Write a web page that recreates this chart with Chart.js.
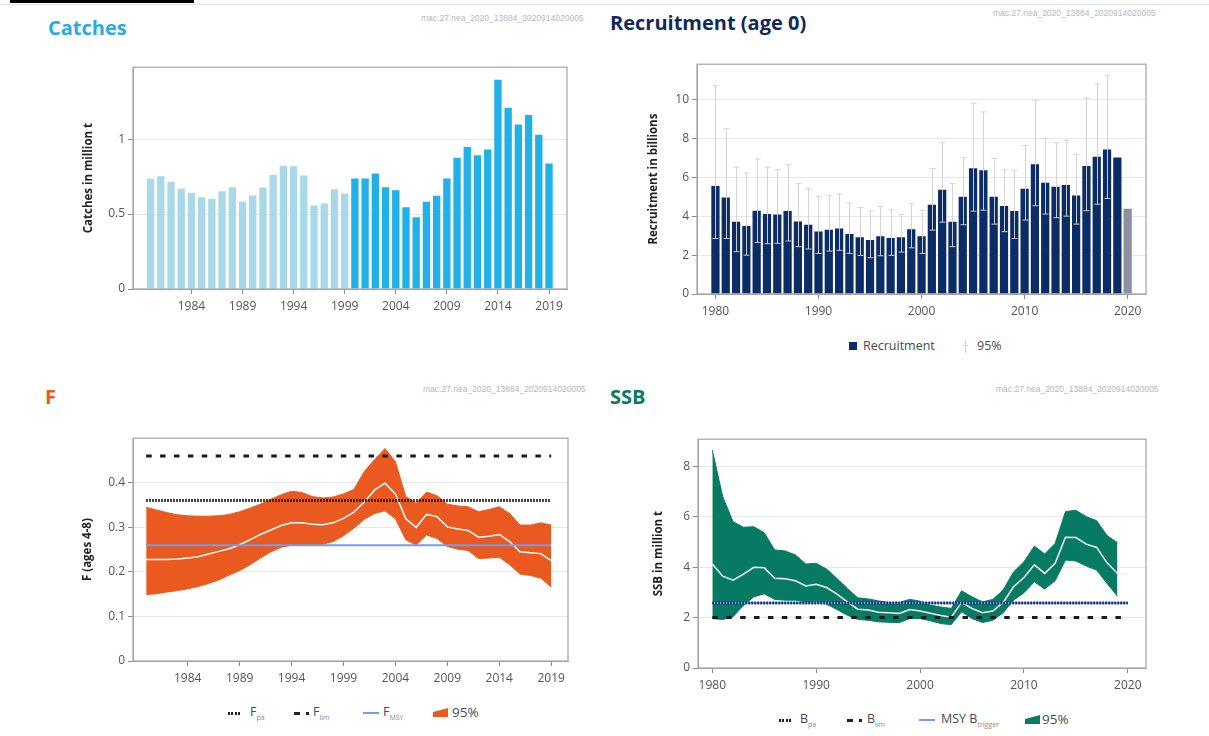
<!DOCTYPE html>
<html>
<head>
<meta charset="utf-8">
<title>mac.27.nea 2020</title>
<script src="https://cdn.jsdelivr.net/npm/chart.js@4.4.1/dist/chart.umd.min.js"></script>
<style>
  body { margin: 0; background: #fff; font-family: "Open Sans", sans-serif; }
  #page { position: relative; width: 1209px; height: 736px; overflow: hidden; }
  canvas { position: absolute; }
  .title { position: absolute; font-weight: 700; font-size: 20px; line-height: 24px; white-space: nowrap; }
  .code { position: absolute; font-family: "Liberation Sans", sans-serif; font-size: 8.5px; line-height: 10px; color: #b3b8c1; white-space: nowrap; }
  .lg { position: absolute; font-size: 12.5px; line-height: 14px; color: #4a4a4a; white-space: nowrap; }
  .lg sub { font-size: 7px; vertical-align: -4px; color: #8a8a8a; }
  .ic { position: absolute; }
  .dots { width: 12px; height: 2.5px; background: repeating-linear-gradient(90deg, #222 0 2px, transparent 2px 3.4px); }
  .dash { width: 6px; height: 3px; background: #222; }
  .dot { width: 3px; height: 3px; background: #222; }
  .msy { width: 16px; height: 2px; background: #6f9df5; }
  .wedge { width: 15px; height: 9px; clip-path: polygon(0 45%, 100% 0, 100% 100%, 0 100%); }
  .sq { width: 8px; height: 8px; background: #0c2c66; }
  .eb { width: 1px; height: 13px; background: #cfcfcf; }
  .ebcap { width: 5px; height: 1px; background: #cfcfcf; }
</style>
</head>
<body>
<div id="page">
  <div class="ic" style="left:10px;top:0;width:184px;height:3px;background:#000"></div>
  <div class="ic" style="left:0;top:4px;width:1209px;height:1px;background:#e4e4e4"></div>

  <div class="title" style="left:48px;top:16px;color:#2aaae2">Catches</div>
  <div class="title" style="left:610px;top:11px;color:#10295b">Recruitment (age 0)</div>
  <div class="title" style="left:45px;top:385px;color:#ea5a20">F</div>
  <div class="title" style="left:610px;top:385px;color:#0b7a63">SSB</div>

  <div class="code" style="left:421px;top:13px">mac.27.nea_2020_13884_2020914020005</div>
  <div class="code" style="left:993px;top:8px">mac.27.nea_2020_13884_2020914020005</div>
  <div class="code" style="left:423px;top:384px">mac.27.nea_2020_13884_2020914020005</div>
  <div class="code" style="left:996px;top:384px">mac.27.nea_2020_13884_2020914020005</div>

  <canvas id="catchChart" width="497" height="262" style="left:82px;top:57px"></canvas>
  <canvas id="recChart" width="511" height="270" style="left:647px;top:54px"></canvas>
  <canvas id="fChart" width="499" height="263" style="left:81px;top:428px"></canvas>
  <canvas id="ssbChart" width="506" height="269" style="left:652px;top:429px"></canvas>

  <!-- recruitment legend -->
  <div class="ic sq" style="left:849px;top:342px"></div>
  <div class="lg" style="left:863px;top:339px">Recruitment</div>
  <div class="ic eb" style="left:965px;top:340px"></div>
  <div class="ic ebcap" style="left:963px;top:345px"></div>
  <div class="lg" style="left:977px;top:339px">95%</div>

  <!-- F legend -->
  <div class="ic dots" style="left:228px;top:712px"></div>
  <div class="lg" style="left:250px;top:705px">F<sub>pa</sub></div>
  <div class="ic dash" style="left:294px;top:712px"></div>
  <div class="ic dot" style="left:306px;top:712px"></div>
  <div class="lg" style="left:313px;top:705px">F<sub>lim</sub></div>
  <div class="ic msy" style="left:363px;top:712px"></div>
  <div class="lg" style="left:383px;top:705px">F<sub>MSY</sub></div>
  <div class="ic wedge" style="left:433px;top:708px;background:#ea5a20"></div>
  <div class="lg" style="left:452px;top:705px;font-size:13.5px">95%</div>

  <!-- SSB legend -->
  <div class="ic dots" style="left:779px;top:719px"></div>
  <div class="lg" style="left:800px;top:712px">B<sub>pa</sub></div>
  <div class="ic dash" style="left:847px;top:719px"></div>
  <div class="ic dot" style="left:859px;top:719px"></div>
  <div class="lg" style="left:867px;top:712px">B<sub>lim</sub></div>
  <div class="ic msy" style="left:919px;top:719px"></div>
  <div class="lg" style="left:941px;top:712px">MSY B<sub>trigger</sub></div>
  <div class="ic wedge" style="left:1025px;top:715px;background:#0b7a63"></div>
  <div class="lg" style="left:1042px;top:712px;font-size:13.5px">95%</div>
</div>

<script>
// years 1980-2020
const years = [1980, 1981, 1982, 1983, 1984, 1985, 1986, 1987, 1988, 1989,
  1990, 1991, 1992, 1993, 1994, 1995, 1996, 1997, 1998, 1999,
  2000, 2001, 2002, 2003, 2004, 2005, 2006, 2007, 2008, 2009,
  2010, 2011, 2012, 2013, 2014, 2015, 2016, 2017, 2018, 2019, 2020];

// catches in million t, 1980-2019
const catches = [0.735, 0.752, 0.715, 0.670, 0.642, 0.613, 0.602, 0.653, 0.679, 0.584,
  0.624, 0.677, 0.761, 0.823, 0.819, 0.757, 0.558, 0.571, 0.666, 0.637,
  0.737, 0.737, 0.770, 0.679, 0.659, 0.546, 0.478, 0.582, 0.622, 0.737,
  0.876, 0.947, 0.892, 0.931, 1.396, 1.210, 1.097, 1.161, 1.029, 0.838];
const catchSplitYear = 2000;

// recruitment in billions, 1980-2020 (last one is an assumption -> grey)
const recruitment = [5.56, 4.97, 3.72, 3.50, 4.29, 4.12, 4.10, 4.27, 3.74, 3.57,
  3.22, 3.31, 3.38, 3.09, 2.92, 2.78, 2.97, 2.88, 2.92, 3.33,
  2.97, 4.60, 5.37, 3.72, 5.01, 6.48, 6.38, 5.01, 4.53, 4.27,
  5.42, 6.69, 5.73, 5.52, 5.61, 5.08, 6.59, 7.07, 7.44, 7.03, 4.39];
const recLow = [2.86, 2.86, 2.18, 2.00, 2.66, 2.59, 2.61, 2.73, 2.44, 2.32,
  2.09, 2.21, 2.25, 2.09, 1.99, 1.87, 1.97, 1.99, 2.16, 2.38,
  2.09, 3.29, 3.70, 2.44, 3.57, 4.27, 4.32, 3.60, 3.21, 2.86,
  3.81, 4.55, 4.12, 3.93, 4.01, 3.60, 4.29, 4.63, 4.92, null, null];
const recHigh = [10.75, 8.52, 6.54, 6.23, 6.96, 6.54, 6.40, 6.66, 5.69, 5.42,
  5.04, 5.06, 5.16, 4.68, 4.46, 4.27, 4.51, 4.34, 4.10, 4.65,
  4.31, 6.47, 7.82, 5.69, 7.03, 9.83, 9.38, 6.98, 6.40, 6.38,
  7.65, 9.98, 8.01, 7.79, 7.92, 7.19, 10.10, 10.82, 11.27, null, null];

// F (ages 4-8), 1980-2019
const fMed = [0.228, 0.228, 0.228, 0.229, 0.231, 0.234, 0.240, 0.246, 0.252, 0.261,
  0.272, 0.284, 0.294, 0.304, 0.310, 0.310, 0.307, 0.306, 0.310, 0.320,
  0.334, 0.357, 0.384, 0.399, 0.375, 0.319, 0.300, 0.329, 0.324, 0.301,
  0.296, 0.293, 0.278, 0.280, 0.284, 0.268, 0.245, 0.243, 0.241, 0.225];
const fHigh = [0.345, 0.339, 0.333, 0.328, 0.326, 0.325, 0.325, 0.326, 0.329, 0.335,
  0.343, 0.352, 0.363, 0.373, 0.381, 0.378, 0.369, 0.366, 0.368, 0.375,
  0.385, 0.425, 0.452, 0.477, 0.447, 0.369, 0.354, 0.379, 0.371, 0.352,
  0.348, 0.346, 0.335, 0.340, 0.346, 0.331, 0.305, 0.305, 0.310, 0.305];
const fLow = [0.149, 0.151, 0.155, 0.158, 0.162, 0.167, 0.174, 0.182, 0.193, 0.203,
  0.216, 0.231, 0.245, 0.255, 0.260, 0.260, 0.260, 0.262, 0.268, 0.281,
  0.298, 0.318, 0.331, 0.337, 0.319, 0.272, 0.260, 0.283, 0.275, 0.257,
  0.251, 0.248, 0.230, 0.231, 0.233, 0.216, 0.195, 0.192, 0.186, 0.166];
const F_PA = 0.36, F_LIM = 0.46, F_MSY = 0.26;

// SSB in million t, median 1980-2020, band 1980-2019
const ssbMed = [4.12, 3.64, 3.48, 3.72, 3.99, 3.97, 3.56, 3.54, 3.46, 3.25,
  3.32, 3.19, 2.93, 2.62, 2.33, 2.30, 2.21, 2.19, 2.16, 2.32,
  2.26, 2.17, 2.08, 2.01, 2.60, 2.36, 2.19, 2.26, 2.60, 3.22,
  3.59, 4.09, 3.75, 4.15, 5.18, 5.17, 4.91, 4.78, 4.17, 3.75, 3.70];
const ssbHigh = [8.64, 6.79, 5.80, 5.58, 5.60, 5.36, 4.68, 4.64, 4.48, 4.12,
  4.15, 3.92, 3.55, 3.15, 2.78, 2.74, 2.66, 2.60, 2.60, 2.72,
  2.65, 2.49, 2.42, 2.36, 3.06, 2.82, 2.62, 2.72, 3.09, 3.81,
  4.21, 4.83, 4.52, 4.94, 6.20, 6.25, 6.00, 5.84, 5.25, 4.97];
const ssbLow = [1.96, 1.92, 2.03, 2.49, 2.82, 2.94, 2.72, 2.69, 2.69, 2.62,
  2.65, 2.53, 2.32, 2.09, 1.93, 1.89, 1.83, 1.81, 1.80, 1.96,
  1.96, 1.87, 1.76, 1.72, 2.23, 1.96, 1.80, 1.89, 2.19, 2.69,
  2.98, 3.42, 3.13, 3.46, 4.28, 4.24, 4.04, 3.88, 3.35, 2.85];
const B_PA = 2.58, B_LIM = 2.0, MSY_BTRIGGER = 2.58;

// tick labels
const ticks5yr = [1984, 1989, 1994, 1999, 2004, 2009, 2014, 2019];
const ticks10yr = [1980, 1990, 2000, 2010, 2020];
const catchTicks = [0, 0.5, 1];
const recTicks = [0, 2, 4, 6, 8, 10];
const fTicks = [0, 0.1, 0.2, 0.3, 0.4];
const ssbTicks = [0, 2, 4, 6, 8];

const ORANGE = "#ea5a20";
const GREEN = "#077a63";

Chart.defaults.font.family = '"Open Sans", sans-serif';
Chart.defaults.animation = false;
Chart.defaults.plugins.legend.display = false;
Chart.defaults.plugins.tooltip.enabled = false;

const pts = (ys) => ys.map((y, i) => ({ x: years[i], y: y }));
const flat = (v, from, to) => [{ x: from, y: v }, { x: to, y: v }];

function xAxis(min, max, tickVals) {
  return {
    type: "linear", min: min, max: max, offset: false,
    afterBuildTicks: s => { s.ticks = tickVals.map(v => ({ value: v })); },
    afterFit: s => { s.height = 30; },
    grid: { drawOnChartArea: false, tickLength: 5, tickColor: "#8c8c8c", offset: false },
    border: { color: "#a3a3a3" },
    ticks: { color: "#555", font: { size: 12 }, padding: 5, maxRotation: 0, autoSkip: false,
      callback: v => String(v) }
  };
}

function yAxis(max, tickVals, width, title) {
  return {
    min: 0, max: max,
    afterBuildTicks: s => { s.ticks = tickVals.map(v => ({ value: v })); },
    afterFit: s => { s.width = width; },
    grid: { color: "#e7e7e7", tickLength: 5, tickColor: "#8c8c8c" },
    border: { color: "#a3a3a3" },
    ticks: { color: "#555", font: { size: 12 }, padding: 3, callback: v => String(v) },
    title: { display: true, text: title, color: "#222", padding: 0,
      font: { size: 11.5, weight: "bold" } }
  };
}

// full box round the plot area
const boxPlugin = {
  id: "box",
  afterDatasetsDraw(chart) {
    const { ctx, chartArea: a } = chart;
    ctx.save();
    ctx.strokeStyle = "#a3a3a3";
    ctx.lineWidth = 1.2;
    ctx.strokeRect(a.left, a.top, a.right - a.left, a.bottom - a.top);
    ctx.restore();
  }
};

// 95% whiskers on recruitment
const errorBars = {
  id: "errorBars",
  afterDatasetsDraw(chart) {
    const { ctx } = chart;
    const xs = chart.scales.x, ys = chart.scales.y;
    ctx.save();
    ctx.strokeStyle = "rgba(210,210,210,0.95)";
    ctx.lineWidth = 1;
    years.forEach((yr, i) => {
      if (recLow[i] == null) return;
      const px = Math.round(xs.getPixelForValue(yr)) + 0.5;
      const lo = ys.getPixelForValue(recLow[i]);
      const hi = ys.getPixelForValue(recHigh[i]);
      ctx.beginPath();
      ctx.moveTo(px, lo); ctx.lineTo(px, hi);
      ctx.moveTo(px - 3, lo); ctx.lineTo(px + 3, lo);
      ctx.moveTo(px - 3, hi); ctx.lineTo(px + 3, hi);
      ctx.stroke();
    });
    ctx.restore();
  }
};

// Catches
new Chart(document.getElementById("catchChart"), {
  type: "bar",
  data: {
    datasets: [{
      data: pts(catches),
      backgroundColor: catches.map((v, i) => years[i] < catchSplitYear ? "#a9d9e8" : "#22b1e6"),
      barPercentage: 0.72,
      categoryPercentage: 1
    }]
  },
  options: {
    responsive: false,
    layout: { padding: { top: 10, right: 12, left: 0, bottom: 0 } },
    scales: {
      x: xAxis(1978.28, 2020.76, ticks5yr),
      y: yAxis(1.48, catchTicks, 51, "Catches in million t")
    }
  },
  plugins: [boxPlugin]
});

// Recruitment
new Chart(document.getElementById("recChart"), {
  type: "bar",
  data: {
    datasets: [{
      data: pts(recruitment),
      backgroundColor: recruitment.map((v, i) => i === recruitment.length - 1 ? "#8b90a2" : "#0c2c66"),
      barPercentage: 0.8,
      categoryPercentage: 1
    }]
  },
  options: {
    responsive: false,
    layout: { padding: { top: 10, right: 12, left: 0, bottom: 0 } },
    scales: {
      x: xAxis(1978.21, 2021.78, ticks10yr),
      y: yAxis(11.84, recTicks, 50, "Recruitment in billions")
    }
  },
  plugins: [errorBars, boxPlugin]
});

function refLine(v, from, to, color, dash, width) {
  return { data: flat(v, from, to), borderColor: color, borderWidth: width,
    borderDash: dash, pointRadius: 0, fill: false };
}

// F
new Chart(document.getElementById("fChart"), {
  type: "line",
  data: {
    datasets: [
      refLine(F_LIM, 1980, 2019, "#1a1a1a", [5.5, 8.4], 3),
      refLine(F_PA, 1980, 2019, "#1a1a1a", [1.6, 1.4], 3),
      refLine(F_MSY, 1980, 2019, "#6f9df5", [], 2),
      { data: pts(fMed), borderColor: "#fff", borderWidth: 1.5, pointRadius: 0, fill: false },
      { data: pts(fHigh), borderColor: ORANGE, backgroundColor: ORANGE, borderWidth: 1,
        pointRadius: 0, fill: "+1" },
      { data: pts(fLow), borderColor: ORANGE, borderWidth: 1, pointRadius: 0, fill: false }
    ]
  },
  options: {
    responsive: false,
    layout: { padding: { top: 10, right: 12, left: 0, bottom: 0 } },
    scales: {
      x: xAxis(1978.73, 2020.62, ticks5yr),
      y: yAxis(0.5, fTicks, 52, "F (ages 4-8)")
    }
  },
  plugins: [boxPlugin]
});

// SSB
new Chart(document.getElementById("ssbChart"), {
  type: "line",
  data: {
    datasets: [
      refLine(B_PA, 1980, 2020, "#1a2a6a", [1.6, 1.4], 3),
      refLine(MSY_BTRIGGER, 1980, 2020, "#6f9df5", [], 2),
      refLine(B_LIM, 1980, 2020, "#1a1a1a", [5.5, 8.4], 3),
      { data: pts(ssbMed), borderColor: "#f2f2f2", borderWidth: 1.5, pointRadius: 0, fill: false },
      { data: pts(ssbHigh), borderColor: GREEN, backgroundColor: GREEN, borderWidth: 1,
        pointRadius: 0, fill: "+1" },
      { data: pts(ssbLow), borderColor: GREEN, borderWidth: 1, pointRadius: 0, fill: false }
    ]
  },
  options: {
    responsive: false,
    layout: { padding: { top: 10, right: 12, left: 0, bottom: 0 } },
    scales: {
      x: xAxis(1978.62, 2021.75, ticks10yr),
      y: yAxis(9.07, ssbTicks, 46, "SSB in million t")
    }
  },
  plugins: [boxPlugin]
});
</script>
</body>
</html>
